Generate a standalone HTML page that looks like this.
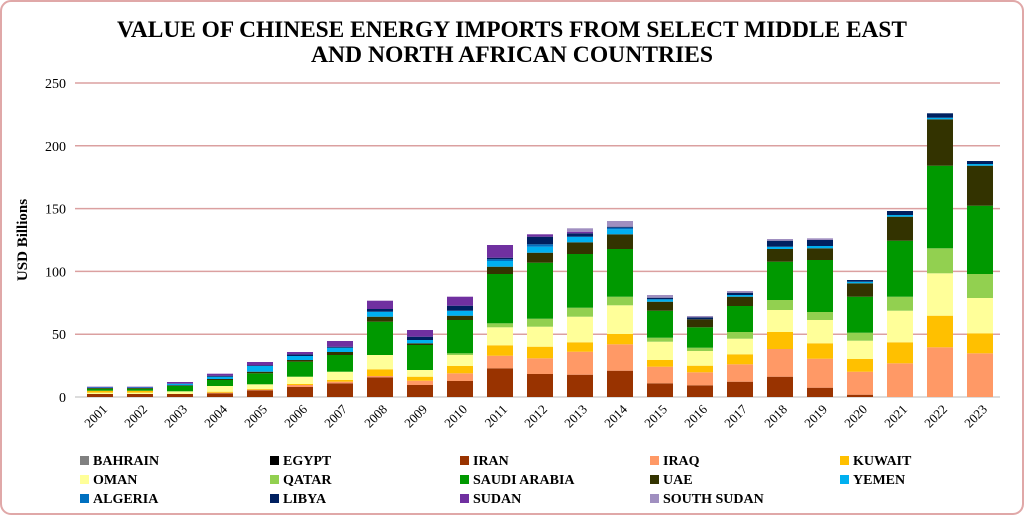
<!DOCTYPE html>
<html><head><meta charset="utf-8"><style>
body{margin:0;background:#fff;}
svg{display:block;}
text{font-family:"Liberation Serif",serif;}
</style></head><body>
<svg id="s" width="1024" height="515" viewBox="0 0 1024 515" xmlns="http://www.w3.org/2000/svg">
<rect x="1" y="1" width="1022" height="513" rx="10" fill="#fff" stroke="#e0a8a8" stroke-width="2"/>
<text x="512" y="37" text-anchor="middle" font-size="23" font-weight="bold" textLength="790" lengthAdjust="spacingAndGlyphs">VALUE OF CHINESE ENERGY IMPORTS FROM SELECT MIDDLE EAST</text>
<text x="512" y="62" text-anchor="middle" font-size="23" font-weight="bold" textLength="402" lengthAdjust="spacingAndGlyphs">AND NORTH AFRICAN COUNTRIES</text>
<text transform="translate(27,240) rotate(-90)" text-anchor="middle" font-size="15" font-weight="bold">USD Billions</text>
<g id="grid"></g><g id="bars"></g><g id="xl"></g><g id="leg"></g>
</svg>
<script>
var NS="http://www.w3.org/2000/svg";
function el(p,t,a,txt){var e=document.createElementNS(NS,t);for(var k in a)e.setAttribute(k,a[k]);if(txt!=null)e.textContent=txt;document.getElementById(p).appendChild(e);return e;}
var C={I:"#993300",Q:"#ff9966",K:"#ffc000",O:"#ffff99",T:"#92d050",S:"#009900",U:"#333300",Y:"#00b0f0",A:"#0070c0",L:"#002060",D:"#7030a0",X:"#a08fc0"};
var B=397;
for(var k=0;k<=5;k++){var y=B-62.8*k;
 el("grid","line",{x1:75,x2:1000,y1:y,y2:y,stroke:k==0?"#d0d0d0":"#dba0a0","stroke-width":1.5});
 el("grid","text",{x:66,y:y+5,"text-anchor":"end","font-size":14,"font-family":"Liberation Sans, sans-serif"},String(k*50));}
var D=[
[["I",394],["O",392.7],["K",390.7],["S",388.7],["U",388],["Y",387.5],["D",386.7]],
[["I",394],["O",392.7],["K",390.7],["S",388.7],["U",388],["Y",387.5],["D",386.7]],
[["I",394],["O",391.3],["S",386],["U",385.3],["Y",383.7],["D",382]],
[["I",393.3],["Q",392.7],["K",391.7],["O",386],["S",380],["U",379],["Y",376.7],["L",375.7],["D",373.7]],
[["I",390.3],["Q",389.7],["K",389],["O",384.3],["S",373.3],["U",371.7],["Y",366],["L",365.3],["D",362]],
[["I",387],["Q",385],["K",384],["O",376.7],["S",361.7],["U",360],["Y",356],["L",354.3],["D",352]],
[["I",383.3],["Q",381.7],["K",380],["O",371.7],["S",355],["U",352],["Y",347.7],["L",346.7],["D",341]],
[["I",377.3],["Q",376],["K",369.3],["O",355],["S",321.7],["U",316.7],["Y",311.7],["L",309],["D",300.7]],
[["I",385],["Q",380.7],["K",376.7],["O",370],["S",345],["U",343.3],["Y",340],["L",336.7],["D",330]],
[["I",381],["Q",373.3],["K",366],["O",355],["T",353.3],["S",320],["U",315.7],["Y",310.7],["L",305.7],["D",296.7]],
[["I",368.3],["Q",355.7],["K",345.3],["O",327.3],["T",323.3],["S",274],["U",266.7],["Y",261],["A",259.3],["L",257.7],["D",245]],
[["I",374],["Q",358.3],["K",346.7],["O",326.7],["T",318.7],["S",262.7],["U",252.7],["Y",246.7],["A",244.3],["L",236.7],["D",234.3]],
[["I",374.7],["Q",351.7],["K",342.3],["O",316.7],["T",307.7],["S",254],["U",242.3],["Y",236.7],["L",233.3],["D",231.7],["X",228.3]],
[["I",370.7],["Q",344.3],["K",334],["O",305.3],["T",296.7],["S",249],["U",234.3],["Y",229.3],["A",227.7],["L",226.7],["X",221]],
[["I",383.3],["Q",366.7],["K",360],["O",341.7],["T",337.7],["S",310.7],["U",301.7],["Y",299.3],["L",297.7],["X",295]],
[["I",385.3],["Q",372.3],["K",365.7],["O",351],["T",347.7],["S",327.3],["U",319.3],["L",317.3],["X",316]],
[["I",381.7],["Q",364.3],["K",354.3],["O",338.7],["T",332],["S",306],["U",296.7],["Y",295],["L",292.7],["X",291]],
[["I",376.7],["Q",349],["K",332],["O",310],["T",300],["S",261.7],["U",249],["Y",246.7],["L",240.7],["X",239]],
[["I",387.7],["Q",358.7],["K",343.3],["O",320],["T",312],["S",260],["U",248.3],["Y",246],["L",240],["X",238.3]],
[["I",394.7],["Q",371.7],["K",359],["O",340.7],["T",332.7],["S",296.7],["U",283.3],["Y",281.7],["L",280]],
[["Q",363.3],["K",342.3],["O",310.7],["T",296.7],["S",240.7],["U",216.7],["Y",215],["L",211]],
[["Q",347.3],["K",315.7],["O",273.3],["T",248.3],["S",165.7],["U",119.3],["Y",117.7],["L",113.3]],
[["Q",353.3],["K",333.3],["O",298],["T",274],["S",205.7],["U",165.7],["Y",164],["L",161]]];
D.forEach(function(b,i){var x=87+i*40,prev=B;
 b.forEach(function(s){el("bars","rect",{x:x,y:s[1],width:26,height:Math.max(0,prev-s[1]),fill:C[s[0]]});prev=s[1];});
 var cx=x+13;
 el("xl","text",{transform:"translate("+(cx+8)+",410) rotate(-45)","text-anchor":"end","font-size":13,"font-family":"Liberation Sans, sans-serif"},String(2001+i));
});
var L=[["BAHRAIN","#808080"],["EGYPT","#000000"],["IRAN",C.I],["IRAQ",C.Q],["KUWAIT",C.K],["OMAN",C.O],["QATAR",C.T],["SAUDI ARABIA",C.S],["UAE",C.U],["YEMEN",C.Y],["ALGERIA",C.A],["LIBYA",C.L],["SUDAN",C.D],["SOUTH SUDAN",C.X]];
var cols=[80,270,460,650,840];
L.forEach(function(l,i){var c=i%5,r=Math.floor(i/5),x=cols[c],y=461+r*19;
 el("leg","rect",{x:x,y:y-5,width:9,height:9,fill:l[1]});
 el("leg","text",{x:x+13,y:y+4,"font-size":14,"font-weight":"bold"},l[0]);});
</script>
</body></html>
